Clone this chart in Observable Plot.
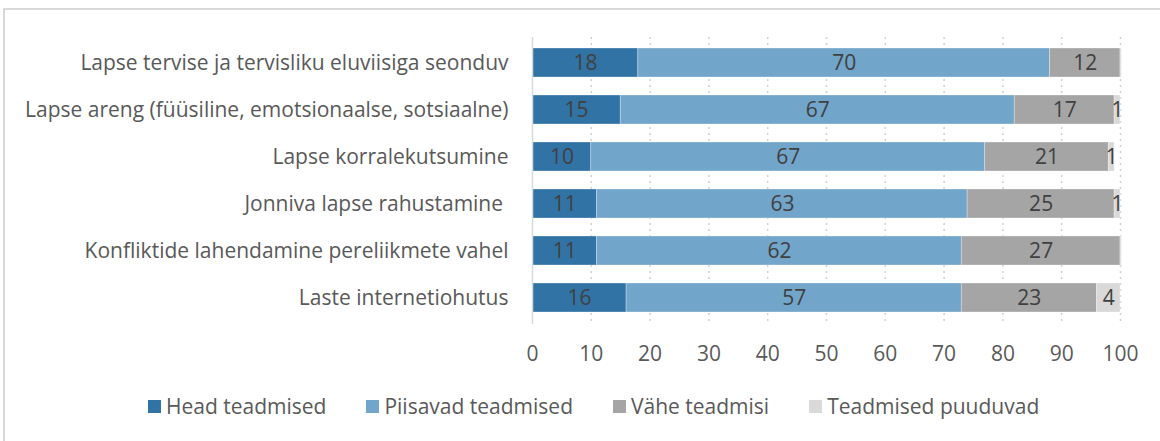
<!DOCTYPE html>
<html>
<head>
<meta charset="utf-8">
<script src="https://cdn.jsdelivr.net/npm/d3@7"></script>
<script src="https://cdn.jsdelivr.net/npm/@observablehq/plot@0.6"></script>
<style>
  html, body { margin: 0; padding: 0; background: #fff; }
  body { width: 1160px; height: 441px; position: relative; overflow: hidden; font-family: "Open Sans", Lato, sans-serif; }
  #frame { position: absolute; left: 3px; top: 8px; width: 1200px; height: 500px; border: 2px solid #d9d9d9; box-sizing: border-box; }
  #chart { position: absolute; left: 0; top: 0; }
  #legend { position: absolute; left: 148px; top: 392px; display: flex; align-items: center; font-size: 21px; color: #595959; white-space: nowrap; }
  #legend .item { display: flex; align-items: center; margin-right: 40px; }
  #legend .sw { width: 13px; height: 13px; margin-right: 5px; }
</style>
</head>
<body>
<div id="frame"></div>
<div id="chart"></div>
<div id="legend"></div>
<script>
const categories = [
  "Lapse tervise ja tervisliku eluviisiga seonduv",
  "Lapse areng (füüsiline, emotsionaalse, sotsiaalne)",
  "Lapse korralekutsumine",
  "Jonniva lapse rahustamine ",
  "Konfliktide lahendamine pereliikmete vahel",
  "Laste internetiohutus"
];
const seriesNames = ["Head teadmised", "Piisavad teadmised", "Vähe teadmisi", "Teadmised puuduvad"];
const colors = ["#3273a6", "#72a5ca", "#a5a5a5", "#d9d9d9"];
const headTeadmised     = [18, 15, 10, 11, 11, 16];
const piisavadTeadmised = [70, 67, 67, 63, 62, 57];
const vaheTeadmisi      = [12, 17, 21, 25, 27, 23];
const teadmisedPuuduvad = [0.2, 1, 1, 1, 0.2, 4];
const xTicks = [0, 10, 20, 30, 40, 50, 60, 70, 80, 90, 100];

const seriesValues = [headTeadmised, piisavadTeadmised, vaheTeadmisi, teadmisedPuuduvad];
const data = [];
categories.forEach((c, i) => {
  seriesNames.forEach((s, j) => {
    data.push({category: c, series: s, value: seriesValues[j][i]});
  });
});

const plot = Plot.plot({
  width: 1160,
  height: 380,
  marginLeft: 532,
  marginRight: 40,
  marginTop: 37,
  marginBottom: 56,
  style: {fontFamily: "'Open Sans', Lato, sans-serif", fontSize: "21px", color: "#595959", background: "transparent"},
  x: {domain: [0, 100], ticks: xTicks, label: null},
  y: {domain: categories, label: null, paddingInner: 0.375, paddingOuter: 0.1875},
  color: {domain: seriesNames, range: colors},
  marks: [
    Plot.ruleX(xTicks.filter(d => d > 0), {stroke: "#d0d0d0", strokeDasharray: "2,4", strokeWidth: 1.5}),
    Plot.barX(data, {x: "value", y: "category", fill: "series", z: "series", order: seriesNames,
      stroke: "#ffffff", strokeWidth: 0.6, strokeOpacity: 0.5}),
    Plot.text(data, Plot.stackX({x: "value", y: "category", z: "series", order: seriesNames,
      text: d => d.value >= 0.5 ? String(d.value) : "", fill: "#404040", fontSize: 21})),
    Plot.ruleX([0], {stroke: "#d9d9d9", strokeWidth: 1.5}),
    Plot.axisX({ticks: xTicks, tickSize: 0, tickPadding: 22, fontSize: 21, label: null}),
    Plot.axisY({tickSize: 0, tickPadding: 24, fontSize: 21, label: null})
  ]
});
document.getElementById("chart").appendChild(plot);

const legend = document.getElementById("legend");
seriesNames.forEach((s, j) => {
  const item = document.createElement("div");
  item.className = "item";
  const sw = document.createElement("span");
  sw.className = "sw";
  sw.style.background = colors[j];
  const t = document.createElement("span");
  t.textContent = s;
  item.appendChild(sw);
  item.appendChild(t);
  legend.appendChild(item);
});
</script>
</body>
</html>
